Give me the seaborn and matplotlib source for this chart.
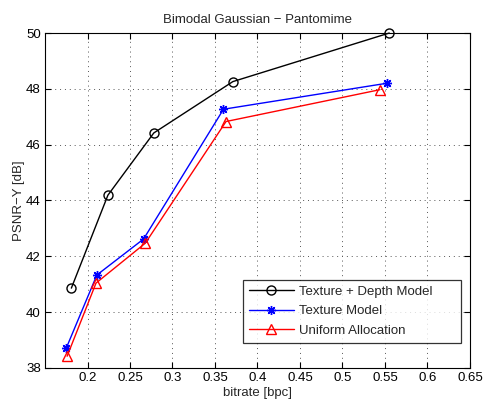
import matplotlib
matplotlib.use("Agg")
import matplotlib.pyplot as plt
import seaborn as sns
import pandas as pd

# Rate-distortion points per allocation scheme
series_names = ["Texture + Depth Model", "Texture Model", "Uniform Allocation"]
rate_td = [0.181, 0.224, 0.278, 0.371, 0.555]
psnr_td = [40.86, 44.19, 46.42, 48.26, 50.0]
rate_t = [0.175, 0.211, 0.266, 0.360, 0.552]
psnr_t = [38.71, 41.33, 42.62, 47.27, 48.20]
rate_u = [0.176, 0.210, 0.268, 0.363, 0.544]
psnr_u = [38.42, 41.04, 42.47, 46.83, 47.97]

x_ticks = [0.2, 0.25, 0.3, 0.35, 0.4, 0.45, 0.5, 0.55, 0.6, 0.65]
y_ticks = [38, 40, 42, 44, 46, 48, 50]

frames = []
for name, r, p in zip(series_names, [rate_td, rate_t, rate_u], [psnr_td, psnr_t, psnr_u]):
    frames.append(pd.DataFrame({"bitrate": r, "psnr": p, "scheme": name}))
df = pd.concat(frames, ignore_index=True)

sns.set_style("white")
plt.rcParams["font.family"] = ["Liberation Sans", "DejaVu Sans"]

FS = 9.5
fig = plt.figure(figsize=(4.84, 4.03), dpi=100)
ax = fig.add_axes([0.093, 0.087, 0.878, 0.831])

palette = {series_names[0]: "black", series_names[1]: "blue", series_names[2]: "red"}
markers = {series_names[0]: "o", series_names[1]: (8, 2, 0), series_names[2]: "^"}
msizes = {series_names[0]: 6.5, series_names[1]: 6.5, series_names[2]: 7.5}

for name in series_names:
    sub = df[df["scheme"] == name]
    sns.lineplot(data=sub, x="bitrate", y="psnr", ax=ax, color=palette[name],
                 marker=markers[name], markersize=msizes[name],
                 markerfacecolor="none", markeredgecolor=palette[name],
                 markeredgewidth=1.0, linewidth=1.0, label=name,
                 sort=False, estimator=None, clip_on=False, zorder=3)

ax.set_xlim(0.15, 0.65)
ax.set_ylim(38, 50)
ax.set_xticks(x_ticks)
ax.set_xticklabels([f"{t:g}" for t in x_ticks])
ax.set_yticks(y_ticks)
ax.grid(True, linestyle=(0, (1, 4)), color="#555555", linewidth=0.7)
ax.tick_params(direction="in", length=4, labelsize=FS, colors="black", pad=3,
               top=True, right=True, bottom=True, left=True)
for s in ax.spines.values():
    s.set_color("black")
    s.set_linewidth(0.8)

ax.set_xlabel("bitrate [bpc]", fontsize=FS, labelpad=2)
ax.set_ylabel("PSNR\u2212Y [dB]", fontsize=FS, labelpad=1)
ax.set_title("Bimodal Gaussian \u2212 Pantomime", fontsize=FS, pad=7)

leg = ax.legend(loc="lower left", bbox_to_anchor=(0.466, 0.075, 0.513, 0.19),
                mode="expand", fontsize=FS,
                frameon=True, fancybox=False, edgecolor="black",
                handlelength=3.4, handletextpad=0.4, borderpad=0.45,
                labelspacing=0.55, borderaxespad=0.0)
leg.get_frame().set_linewidth(0.9)
leg.set_zorder(5)

fig.savefig("out.png", dpi=100)
